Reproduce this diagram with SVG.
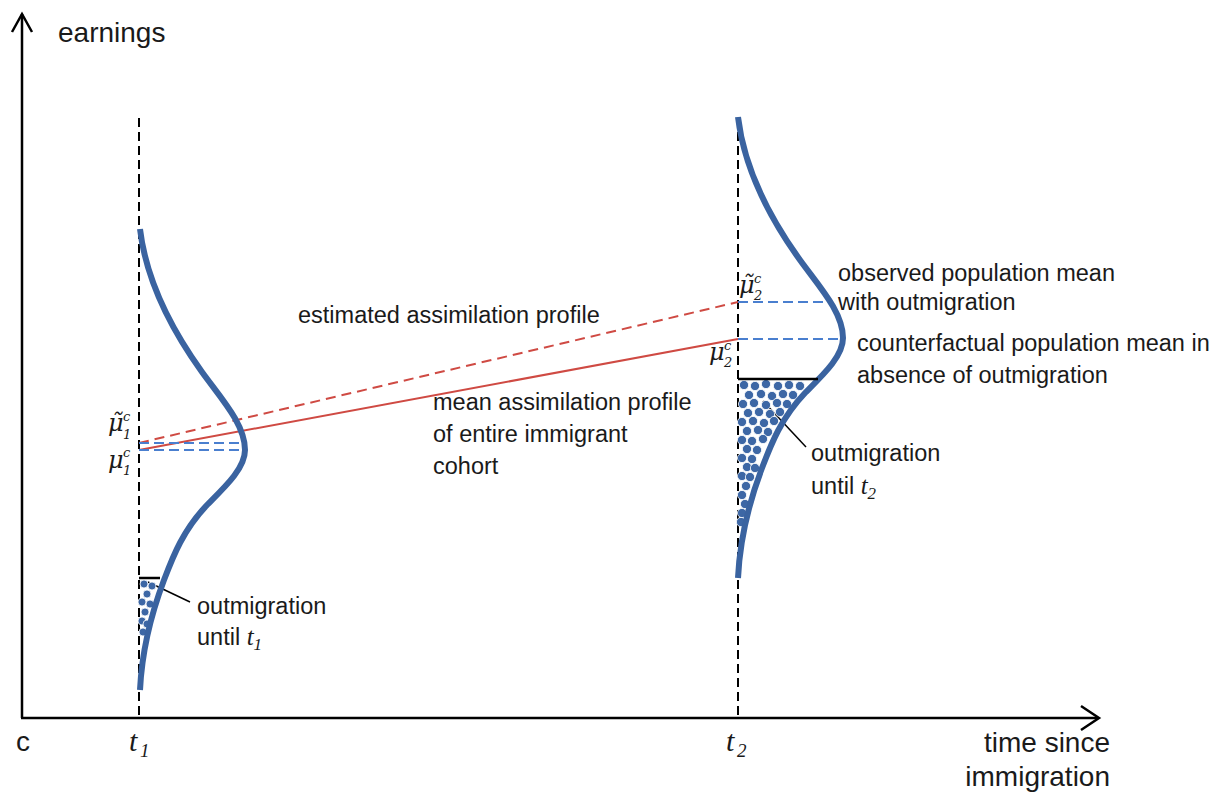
<svg xmlns="http://www.w3.org/2000/svg" width="1221" height="799" viewBox="0 0 1221 799">
<defs>
<style>
.lbl{font-family:"Liberation Sans",Arial,sans-serif;font-size:23.5px;fill:#1a1a1a}
.ax{font-family:"Liberation Sans",Arial,sans-serif;font-size:28px;fill:#1a1a1a}
.it{font-family:"Liberation Serif","DejaVu Serif",serif;font-style:italic;fill:#1a1a1a}
.mu{font-family:"DejaVu Serif","Liberation Serif",serif;font-style:italic;fill:#1a1a1a}
.axis{stroke:#000;stroke-width:2.5;fill:none}
.vdash{stroke:#000;stroke-width:2;stroke-dasharray:9 5;fill:none}
.bdash{stroke:#4a7fcf;stroke-width:2;stroke-dasharray:10 5;fill:none}
.curve{stroke:#3a63a0;stroke-width:6;fill:none;stroke-linecap:butt}
.dot{fill:#3d67a5;stroke:#fff;stroke-width:0.8}
.cut{stroke:#000;stroke-width:2.5}
.lead{stroke:#000;stroke-width:1.5}
</style>
<path id="dist" d="M738,117 C743.7,164.7 765.7,212.3 800,260 C818.7,286 843,312 843,338 C843,356.3 823.3,374.7 805,393 C781.3,418 771.5,443 762,468 C748.1,504.7 739.8,541.3 738,578"/>
</defs>

<g id="axes">
<line class="axis" x1="22" y1="718" x2="22" y2="14"/>
<polyline class="axis" points="12,32 22,14 32,32"/>
<line class="axis" x1="21" y1="718" x2="1098" y2="718"/>
<polyline class="axis" points="1081,706 1099,718 1081,730"/>
<text class="ax" x="58" y="42">earnings</text>
<text class="ax" x="16" y="751">c</text>
<text class="ax" x="1110" y="752" text-anchor="end" font-size="29">time since</text>
<text class="ax" x="1110" y="786" text-anchor="end" font-size="29">immigration</text>
<text class="it" x="129" y="751" font-size="30">t</text>
<text class="it" x="140" y="757" font-size="19">1</text>
<text class="it" x="726" y="751" font-size="30">t</text>
<text class="it" x="737" y="757" font-size="19">2</text>
</g>

<g id="t1-line"><line class="vdash" x1="139" y1="118" x2="139" y2="718"/></g>
<g id="t2-line"><line class="vdash" x1="738" y1="118" x2="738" y2="718"/></g>

<g id="connectors">
<line x1="139" y1="443" x2="738" y2="302" stroke="#cf4a43" stroke-width="2" stroke-dasharray="10 6"/>
<line x1="139" y1="450" x2="738" y2="339" stroke="#cf4a43" stroke-width="2"/>
<line class="bdash" x1="139" y1="443" x2="240" y2="443"/>
<line class="bdash" x1="139" y1="450" x2="242" y2="450"/>
<line class="bdash" x1="738" y1="302" x2="829" y2="302"/>
<line class="bdash" x1="738" y1="339" x2="841" y2="339"/>
<line class="lead" x1="763" y1="401" x2="806" y2="447"/>
<line class="lead" x1="148" y1="582" x2="190" y2="602"/>
</g>

<g id="dots-t2">
<circle class="dot" cx="744" cy="385" r="4.6"/><circle class="dot" cx="755" cy="386" r="4.6"/><circle class="dot" cx="766" cy="384" r="4.6"/><circle class="dot" cx="778" cy="386" r="4.6"/><circle class="dot" cx="789" cy="385" r="4.6"/><circle class="dot" cx="800" cy="386" r="4.6"/>
<circle class="dot" cx="749" cy="395" r="4.6"/><circle class="dot" cx="761" cy="394" r="4.6"/><circle class="dot" cx="772" cy="396" r="4.6"/><circle class="dot" cx="783" cy="394" r="4.6"/><circle class="dot" cx="793" cy="395" r="4.6"/>
<circle class="dot" cx="743" cy="404" r="4.6"/><circle class="dot" cx="754" cy="403" r="4.6"/><circle class="dot" cx="766" cy="405" r="4.6"/><circle class="dot" cx="777" cy="403" r="4.6"/><circle class="dot" cx="787" cy="404" r="4.6"/>
<circle class="dot" cx="748" cy="413" r="4.6"/><circle class="dot" cx="759" cy="412" r="4.6"/><circle class="dot" cx="770" cy="414" r="4.6"/><circle class="dot" cx="780" cy="412" r="4.6"/>
<circle class="dot" cx="742" cy="422" r="4.6"/><circle class="dot" cx="753" cy="421" r="4.6"/><circle class="dot" cx="764" cy="423" r="4.6"/><circle class="dot" cx="774" cy="421" r="4.6"/>
<circle class="dot" cx="747" cy="431" r="4.6"/><circle class="dot" cx="758" cy="430" r="4.6"/><circle class="dot" cx="768" cy="432" r="4.6"/>
<circle class="dot" cx="742" cy="440" r="4.6"/><circle class="dot" cx="752" cy="441" r="4.6"/><circle class="dot" cx="763" cy="439" r="4.6"/>
<circle class="dot" cx="747" cy="449" r="4.6"/><circle class="dot" cx="757" cy="450" r="4.6"/>
<circle class="dot" cx="742" cy="458" r="4.6"/><circle class="dot" cx="752" cy="459" r="4.6"/>
<circle class="dot" cx="747" cy="467" r="4.6"/><circle class="dot" cx="755" cy="468" r="4.6"/>
<circle class="dot" cx="742" cy="476" r="4.6"/><circle class="dot" cx="750" cy="477" r="4.6"/>
<circle class="dot" cx="746" cy="486" r="4.6"/>
<circle class="dot" cx="742" cy="495" r="4.6"/>
<circle class="dot" cx="745" cy="504" r="4.6"/>
<circle class="dot" cx="742" cy="513" r="4.6"/>
<circle class="dot" cx="741" cy="522" r="4.6"/>
</g>

<g id="dots-t1">
<circle class="dot" cx="144" cy="584" r="4"/><circle class="dot" cx="152" cy="586" r="4"/><circle class="dot" cx="147" cy="594" r="4"/><circle class="dot" cx="142" cy="602" r="4"/><circle class="dot" cx="150" cy="604" r="4"/><circle class="dot" cx="145" cy="612" r="4"/><circle class="dot" cx="142" cy="621" r="4"/><circle class="dot" cx="147" cy="624" r="4"/><circle class="dot" cx="143" cy="632" r="4"/>
</g>

<g id="dist-t1">
<use href="#dist" class="curve" transform="translate(-598,112)"/>
<line class="cut" x1="139" y1="578" x2="160" y2="578"/>
</g>
<g id="dist-t2">
<use href="#dist" class="curve"/>
<line class="cut" x1="738" y1="379" x2="818" y2="379"/>
</g>

<g id="mu-labels">
<text class="mu" x="108" y="431" font-size="24">μ̃</text>
<text class="mu" x="123" y="421" font-size="13">c</text>
<text class="mu" x="123" y="439" font-size="13">1</text>
<text class="mu" x="108" y="468" font-size="24">μ</text>
<text class="mu" x="123" y="457" font-size="13">c</text>
<text class="mu" x="123" y="475" font-size="13">1</text>
<text class="mu" x="739" y="293" font-size="24">μ̃</text>
<text class="mu" x="754" y="283" font-size="13">c</text>
<text class="mu" x="754" y="300" font-size="13">2</text>
<text class="mu" x="709" y="360" font-size="24">μ</text>
<text class="mu" x="724" y="350" font-size="13">c</text>
<text class="mu" x="724" y="367" font-size="13">2</text>
</g>

<g id="labels">
<text class="lbl" x="298" y="323">estimated assimilation profile</text>
<text class="lbl" x="433" y="410">mean assimilation profile</text>
<text class="lbl" x="433" y="442">of entire immigrant</text>
<text class="lbl" x="433" y="474">cohort</text>
<text class="lbl" x="838" y="281">observed population mean</text>
<text class="lbl" x="838" y="310">with outmigration</text>
<text class="lbl" x="857" y="351">counterfactual population mean in</text>
<text class="lbl" x="857" y="383">absence of outmigration</text>
<text class="lbl" x="811" y="461">outmigration</text>
<text class="lbl" x="811" y="494">until <tspan class="it" font-size="25">t</tspan><tspan class="it" font-size="17" dy="5">2</tspan></text>
<text class="lbl" x="197" y="614">outmigration</text>
<text class="lbl" x="197" y="645">until <tspan class="it" font-size="25">t</tspan><tspan class="it" font-size="17" dy="5">1</tspan></text>
</g>
</svg>
